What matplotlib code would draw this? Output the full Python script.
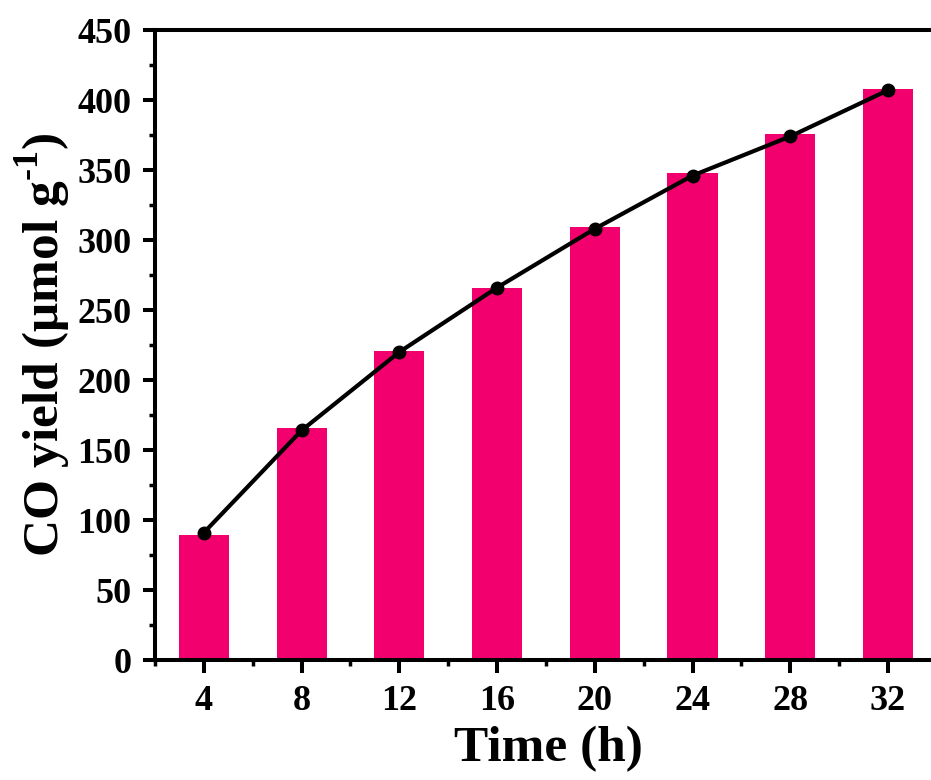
import numpy as np
import matplotlib
matplotlib.use("Agg")
import matplotlib.pyplot as plt
from matplotlib.ticker import MultipleLocator

# data
time_h = [4, 8, 12, 16, 20, 24, 28, 32]
bar_yield = [89, 166, 221, 266, 309, 348, 376, 408]
line_yield = [91, 164, 220, 266, 308, 346, 374, 407]

plt.rcParams['font.family'] = ['Liberation Serif', 'DejaVu Serif']
plt.rcParams['font.weight'] = 'bold'
plt.rcParams['mathtext.fontset'] = 'custom'
plt.rcParams['mathtext.rm'] = 'Liberation Serif:bold'
plt.rcParams['mathtext.bf'] = 'Liberation Serif:bold'

fig = plt.figure(figsize=(9.31, 7.8), dpi=100)
ax = fig.add_axes([0.1665, 0.1538, 0.845, 0.8077])

ax.bar(time_h, bar_yield, width=2.05, color='#F2006E', zorder=2)
ax.plot(time_h, line_yield, color='black', lw=3, marker='o', ms=9, zorder=3)

ax.set_xlim(2, 34.2)
ax.set_ylim(0, 450)
ax.xaxis.set_major_locator(MultipleLocator(4))
ax.xaxis.set_minor_locator(MultipleLocator(2))
ax.yaxis.set_major_locator(MultipleLocator(50))
ax.yaxis.set_minor_locator(MultipleLocator(25))

for s in ax.spines.values():
    s.set_linewidth(2.9)
    s.set_zorder(4)
ax.tick_params(which='major', direction='out', length=9, width=2.9, labelsize=26)
ax.tick_params(which='minor', direction='out', length=4.5, width=2.5)
ax.tick_params(axis='x', which='major', pad=9)
ax.tick_params(axis='y', which='major', pad=8)
for lab in ax.get_xticklabels() + ax.get_yticklabels():
    lab.set_fontweight('bold')

ax.set_xlabel('Time (h)', fontsize=37, fontweight='bold', labelpad=6)
ax.set_ylabel('CO yield (μmol g$^{\\text{-1}}$)', fontsize=37, fontweight='bold', labelpad=3)

fig.savefig('out.png', dpi=100)
